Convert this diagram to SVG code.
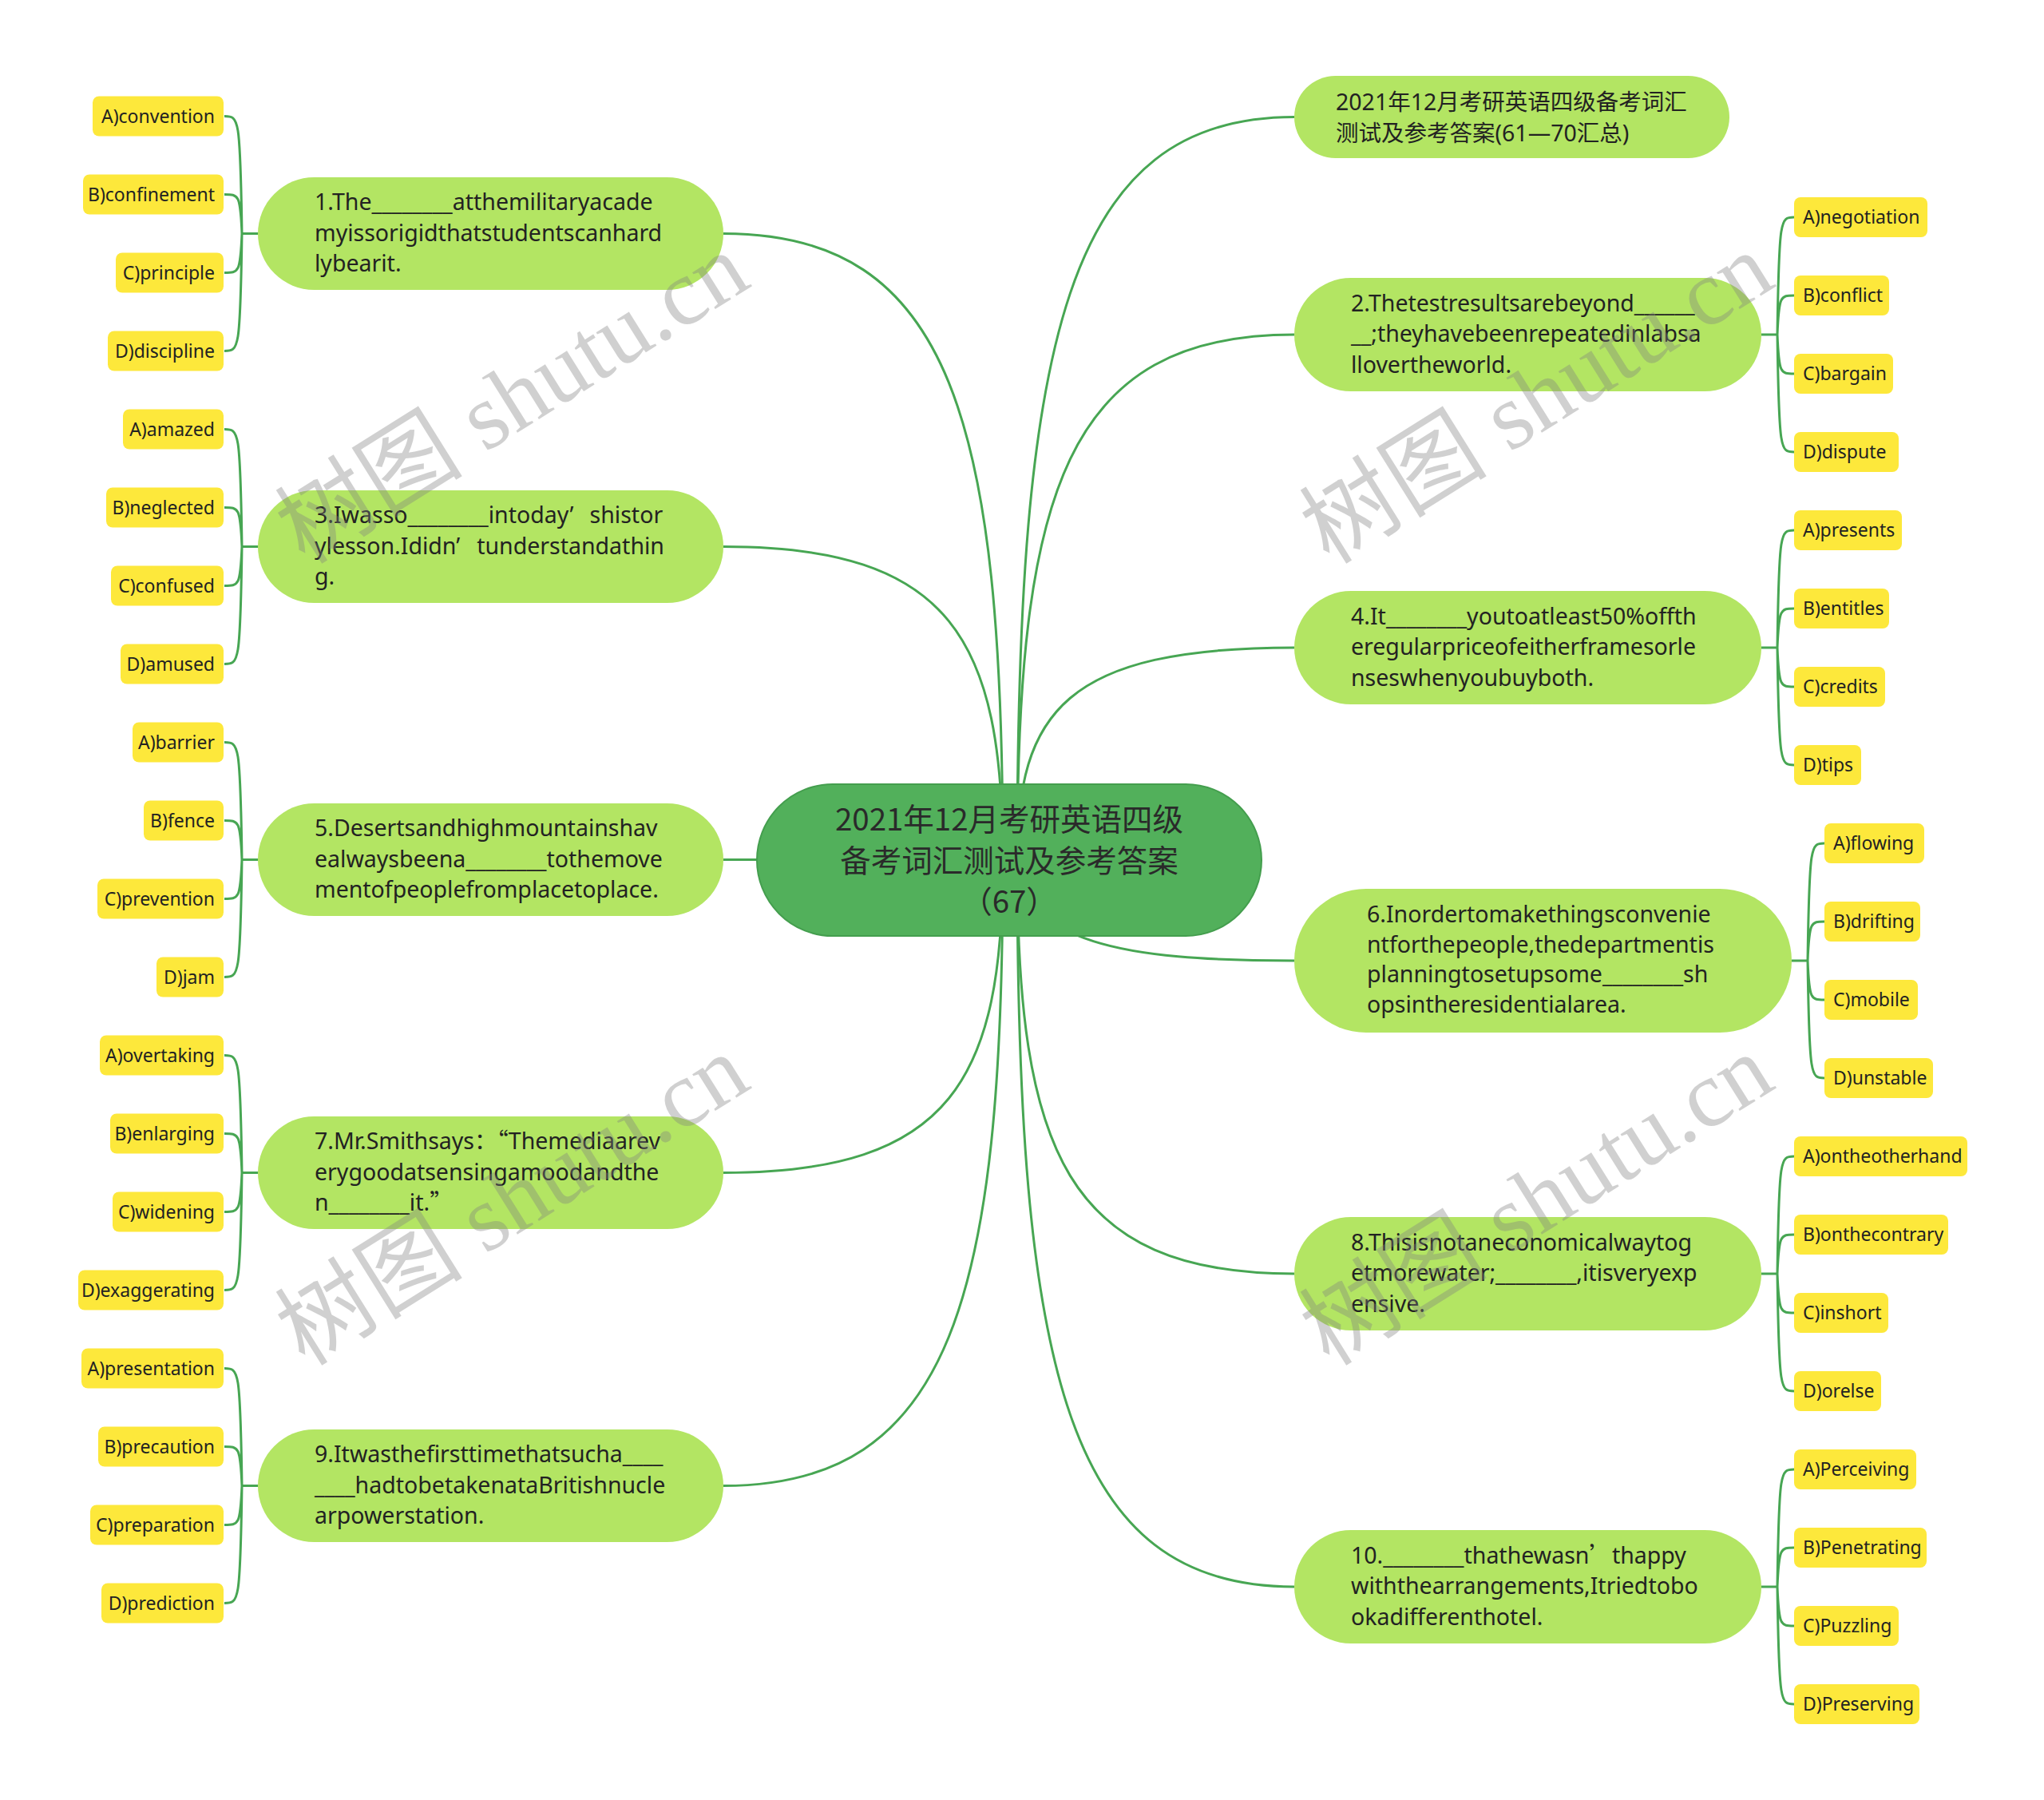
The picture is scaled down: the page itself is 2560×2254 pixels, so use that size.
<svg xmlns="http://www.w3.org/2000/svg" width="2560" height="2254" viewBox="0 0 2560 2254">
<style>
.main{fill:#b3e563}
.opt{fill:#fde83b}
.root{fill:#52b05b;stroke:#449e4e;stroke-width:2}
.t{font-family:"Noto Sans","Noto Sans CJK SC",sans-serif;font-size:28.5px;fill:#222}
.o{font-family:"Noto Sans","Noto Sans CJK SC",sans-serif;font-size:23px;fill:#222}
.r{text-anchor:end}
.cjk{font-family:"Noto Sans CJK SC",sans-serif}
.rt{font-family:"Noto Sans CJK SC",sans-serif;font-size:38.5px;fill:#2a2a2a;text-anchor:middle}
.link{fill:none;stroke:#47a653;stroke-width:3}
.wm{font-family:"Liberation Serif","Noto Sans CJK SC",serif;font-size:118px;fill:#808080;opacity:.36}
</style>
<rect width="2560" height="2254" fill="#ffffff"/>
<g id="connectors">
<path class="link" d="M1256 1077 C1256 528 1192 292.5 906 292.5"/>
<path class="link" d="M1256 1077 C1256 802 1192 684.5 906 684.5"/>
<path class="link" d="M1264 1076.5 L906 1076.5"/>
<path class="link" d="M1256 1077 C1256 1351 1192 1468.5 906 1468.5"/>
<path class="link" d="M1256 1077 C1256 1625 1192 1860.5 906 1860.5"/>
<path class="link" d="M1274 1077 C1274 426 1335 146.5 1621 146.5"/>
<path class="link" d="M1274 1077 C1274 616 1335 419 1621 419"/>
<path class="link" d="M1274 1077 C1274 891 1335 811 1621 811"/>
<path class="link" d="M1264 1077 C1290 1180 1400 1203 1621 1203"/>
<path class="link" d="M1274 1077 C1274 1440 1335 1595 1621 1595"/>
<path class="link" d="M1274 1077 C1274 1714 1335 1987 1621 1987"/>
<path class="link" d="M323 292.5 L303 292.5 M303 292.5 C301 145.5 299 145.5 281 145.5 M303 292.5 C301 243.5 299 243.5 281 243.5 M303 292.5 C301 341.5 299 341.5 281 341.5 M303 292.5 C301 439.5 299 439.5 281 439.5"/>
<path class="link" d="M323 684.5 L303 684.5 M303 684.5 C301 537.5 299 537.5 281 537.5 M303 684.5 C301 635.5 299 635.5 281 635.5 M303 684.5 C301 733.5 299 733.5 281 733.5 M303 684.5 C301 831.5 299 831.5 281 831.5"/>
<path class="link" d="M323 1076.5 L303 1076.5 M303 1076.5 C301 929.5 299 929.5 281 929.5 M303 1076.5 C301 1027.5 299 1027.5 281 1027.5 M303 1076.5 C301 1125.5 299 1125.5 281 1125.5 M303 1076.5 C301 1223.5 299 1223.5 281 1223.5"/>
<path class="link" d="M323 1468.5 L303 1468.5 M303 1468.5 C301 1321.5 299 1321.5 281 1321.5 M303 1468.5 C301 1419.5 299 1419.5 281 1419.5 M303 1468.5 C301 1517.5 299 1517.5 281 1517.5 M303 1468.5 C301 1615.5 299 1615.5 281 1615.5"/>
<path class="link" d="M323 1860.5 L303 1860.5 M303 1860.5 C301 1713.5 299 1713.5 281 1713.5 M303 1860.5 C301 1811.5 299 1811.5 281 1811.5 M303 1860.5 C301 1909.5 299 1909.5 281 1909.5 M303 1860.5 C301 2007.5 299 2007.5 281 2007.5"/>
<path class="link" d="M2206 419 L2226 419 M2226 419 C2228 272 2230 272 2247 272 M2226 419 C2228 370 2230 370 2247 370 M2226 419 C2228 468 2230 468 2247 468 M2226 419 C2228 566 2230 566 2247 566"/>
<path class="link" d="M2206 811 L2226 811 M2226 811 C2228 664 2230 664 2247 664 M2226 811 C2228 762 2230 762 2247 762 M2226 811 C2228 860 2230 860 2247 860 M2226 811 C2228 958 2230 958 2247 958"/>
<path class="link" d="M2244 1203 L2264 1203 M2264 1203 C2266 1056 2268 1056 2285 1056 M2264 1203 C2266 1154 2268 1154 2285 1154 M2264 1203 C2266 1252 2268 1252 2285 1252 M2264 1203 C2266 1350 2268 1350 2285 1350"/>
<path class="link" d="M2206 1595 L2226 1595 M2226 1595 C2228 1448 2230 1448 2247 1448 M2226 1595 C2228 1546 2230 1546 2247 1546 M2226 1595 C2228 1644 2230 1644 2247 1644 M2226 1595 C2228 1742 2230 1742 2247 1742"/>
<path class="link" d="M2206 1987 L2226 1987 M2226 1987 C2228 1840 2230 1840 2247 1840 M2226 1987 C2228 1938 2230 1938 2247 1938 M2226 1987 C2228 2036 2230 2036 2247 2036 M2226 1987 C2228 2134 2230 2134 2247 2134"/>
</g>
<g id="root">
<rect class="root" x="948" y="982" width="632" height="190" rx="95"/>
<text class="rt" x="1264" y="1040">2021年12月考研英语四级</text>
<text class="rt" x="1264" y="1092">备考词汇测试及参考答案</text>
<text class="rt" x="1264" y="1143">（67）</text>
</g>
<g id="node-top">
<rect class="main" x="1621" y="95" width="545" height="103" rx="51.5"/>
<text class="t" x="1673" y="138">2021年12月考研英语四级备考词汇</text>
<text class="t" x="1673" y="177">测试及参考答案(61—70汇总)</text>
</g>
<g id="node-1">
<rect class="main" x="323" y="222" width="583" height="141" rx="70.5"/>
<text class="t" x="394" y="263">1.The________atthemilitaryacade</text>
<text class="t" x="394" y="301.5">myissorigidthatstudentscanhard</text>
<text class="t" x="394" y="340">lybearit.</text>
</g>
<g id="node-1-opts">
<rect class="opt" x="116" y="120.5" width="164" height="50" rx="8"/><text class="o r" x="269" y="153.5">A)convention</text>
<rect class="opt" x="104" y="218.5" width="176" height="50" rx="8"/><text class="o r" x="269" y="251.5">B)confinement</text>
<rect class="opt" x="145" y="316.5" width="135" height="50" rx="8"/><text class="o r" x="269" y="349.5">C)principle</text>
<rect class="opt" x="135" y="414.5" width="145" height="50" rx="8"/><text class="o r" x="269" y="447.5">D)discipline</text>
</g>
<g id="node-3">
<rect class="main" x="323" y="614" width="583" height="141" rx="70.5"/>
<text class="t" x="394" y="655">3.Iwasso________intoday’<tspan dx="21">shistor</tspan></text>
<text class="t" x="394" y="693.5">ylesson.Ididn’<tspan dx="21">tunderstandathin</tspan></text>
<text class="t" x="394" y="732">g.</text>
</g>
<g id="node-3-opts">
<rect class="opt" x="154" y="512.5" width="126" height="50" rx="8"/><text class="o r" x="269" y="545.5">A)amazed</text>
<rect class="opt" x="133" y="610.5" width="147" height="50" rx="8"/><text class="o r" x="269" y="643.5">B)neglected</text>
<rect class="opt" x="139" y="708.5" width="141" height="50" rx="8"/><text class="o r" x="269" y="741.5">C)confused</text>
<rect class="opt" x="151" y="806.5" width="129" height="50" rx="8"/><text class="o r" x="269" y="839.5">D)amused</text>
</g>
<g id="node-5">
<rect class="main" x="323" y="1006" width="583" height="141" rx="70.5"/>
<text class="t" x="394" y="1047">5.Desertsandhighmountainshav</text>
<text class="t" x="394" y="1085.5">ealwaysbeena________tothemove</text>
<text class="t" x="394" y="1124">mentofpeoplefromplacetoplace.</text>
</g>
<g id="node-5-opts">
<rect class="opt" x="166" y="904.5" width="114" height="50" rx="8"/><text class="o r" x="269" y="937.5">A)barrier</text>
<rect class="opt" x="180" y="1002.5" width="100" height="50" rx="8"/><text class="o r" x="269" y="1035.5">B)fence</text>
<rect class="opt" x="122" y="1100.5" width="158" height="50" rx="8"/><text class="o r" x="269" y="1133.5">C)prevention</text>
<rect class="opt" x="196" y="1198.5" width="84" height="50" rx="8"/><text class="o r" x="269" y="1231.5">D)jam</text>
</g>
<g id="node-7">
<rect class="main" x="323" y="1398" width="583" height="141" rx="70.5"/>
<text class="t" x="394" y="1439">7.Mr.Smithsays<tspan class="cjk">：“</tspan>Themediaarev</text>
<text class="t" x="394" y="1477.5">erygoodatsensingamoodandthe</text>
<text class="t" x="394" y="1516">n________it.<tspan class="cjk">”</tspan></text>
</g>
<g id="node-7-opts">
<rect class="opt" x="125" y="1296.5" width="155" height="50" rx="8"/><text class="o r" x="269" y="1329.5">A)overtaking</text>
<rect class="opt" x="138" y="1394.5" width="142" height="50" rx="8"/><text class="o r" x="269" y="1427.5">B)enlarging</text>
<rect class="opt" x="141" y="1492.5" width="139" height="50" rx="8"/><text class="o r" x="269" y="1525.5">C)widening</text>
<rect class="opt" x="98" y="1590.5" width="182" height="50" rx="8"/><text class="o r" x="269" y="1623.5">D)exaggerating</text>
</g>
<g id="node-9">
<rect class="main" x="323" y="1790" width="583" height="141" rx="70.5"/>
<text class="t" x="394" y="1831">9.Itwasthefirsttimethatsucha____</text>
<text class="t" x="394" y="1869.5">____hadtobetakenataBritishnucle</text>
<text class="t" x="394" y="1908">arpowerstation.</text>
</g>
<g id="node-9-opts">
<rect class="opt" x="102" y="1688.5" width="178" height="50" rx="8"/><text class="o r" x="269" y="1721.5">A)presentation</text>
<rect class="opt" x="123" y="1786.5" width="157" height="50" rx="8"/><text class="o r" x="269" y="1819.5">B)precaution</text>
<rect class="opt" x="113" y="1884.5" width="167" height="50" rx="8"/><text class="o r" x="269" y="1917.5">C)preparation</text>
<rect class="opt" x="127" y="1982.5" width="153" height="50" rx="8"/><text class="o r" x="269" y="2015.5">D)prediction</text>
</g>
<g id="node-2">
<rect class="main" x="1621" y="348" width="585" height="142" rx="71"/>
<text class="t" x="1692" y="389.5">2.Thetestresultsarebeyond______</text>
<text class="t" x="1692" y="428">__;theyhavebeenrepeatedinlabsa</text>
<text class="t" x="1692" y="466.5">llovertheworld.</text>
</g>
<g id="node-2-opts">
<rect class="opt" x="2247" y="247" width="167" height="50" rx="8"/><text class="o" x="2258" y="280">A)negotiation</text>
<rect class="opt" x="2247" y="345" width="119" height="50" rx="8"/><text class="o" x="2258" y="378">B)conflict</text>
<rect class="opt" x="2247" y="443" width="124" height="50" rx="8"/><text class="o" x="2258" y="476">C)bargain</text>
<rect class="opt" x="2247" y="541" width="131" height="50" rx="8"/><text class="o" x="2258" y="574">D)dispute</text>
</g>
<g id="node-4">
<rect class="main" x="1621" y="740" width="585" height="142" rx="71"/>
<text class="t" x="1692" y="781.5">4.It________youtoatleast50%offth</text>
<text class="t" x="1692" y="820">eregularpriceofeitherframesorle</text>
<text class="t" x="1692" y="858.5">nseswhenyoubuyboth.</text>
</g>
<g id="node-4-opts">
<rect class="opt" x="2247" y="639" width="135" height="50" rx="8"/><text class="o" x="2258" y="672">A)presents</text>
<rect class="opt" x="2247" y="737" width="119" height="50" rx="8"/><text class="o" x="2258" y="770">B)entitles</text>
<rect class="opt" x="2247" y="835" width="114" height="50" rx="8"/><text class="o" x="2258" y="868">C)credits</text>
<rect class="opt" x="2247" y="933" width="84" height="50" rx="8"/><text class="o" x="2258" y="966">D)tips</text>
</g>
<g id="node-6">
<rect class="main" x="1621" y="1113" width="623" height="180" rx="90"/>
<text class="t" x="1712" y="1155">6.Inordertomakethingsconvenie</text>
<text class="t" x="1712" y="1192.5">ntforthepeople,thedepartmentis</text>
<text class="t" x="1712" y="1230">planningtosetupsome________sh</text>
<text class="t" x="1712" y="1267.5">opsintheresidentialarea.</text>
</g>
<g id="node-6-opts">
<rect class="opt" x="2285" y="1031" width="125" height="50" rx="8"/><text class="o" x="2296" y="1064">A)flowing</text>
<rect class="opt" x="2285" y="1129" width="120" height="50" rx="8"/><text class="o" x="2296" y="1162">B)drifting</text>
<rect class="opt" x="2285" y="1227" width="117" height="50" rx="8"/><text class="o" x="2296" y="1260">C)mobile</text>
<rect class="opt" x="2285" y="1325" width="136" height="50" rx="8"/><text class="o" x="2296" y="1358">D)unstable</text>
</g>
<g id="node-8">
<rect class="main" x="1621" y="1524" width="585" height="142" rx="71"/>
<text class="t" x="1692" y="1565.5">8.Thisisnotaneconomicalwaytog</text>
<text class="t" x="1692" y="1604">etmorewater;________,itisveryexp</text>
<text class="t" x="1692" y="1642.5">ensive.</text>
</g>
<g id="node-8-opts">
<rect class="opt" x="2247" y="1423" width="217" height="50" rx="8"/><text class="o" x="2258" y="1456">A)ontheotherhand</text>
<rect class="opt" x="2247" y="1521" width="193" height="50" rx="8"/><text class="o" x="2258" y="1554">B)onthecontrary</text>
<rect class="opt" x="2247" y="1619" width="118" height="50" rx="8"/><text class="o" x="2258" y="1652">C)inshort</text>
<rect class="opt" x="2247" y="1717" width="109" height="50" rx="8"/><text class="o" x="2258" y="1750">D)orelse</text>
</g>
<g id="node-10">
<rect class="main" x="1621" y="1916" width="585" height="142" rx="71"/>
<text class="t" x="1692" y="1957.5">10.________thathewasn<tspan class="cjk">’</tspan>thappy</text>
<text class="t" x="1692" y="1996">withthearrangements,Itriedtobo</text>
<text class="t" x="1692" y="2034.5">okadifferenthotel.</text>
</g>
<g id="node-10-opts">
<rect class="opt" x="2247" y="1815" width="153" height="50" rx="8"/><text class="o" x="2258" y="1848">A)Perceiving</text>
<rect class="opt" x="2247" y="1913" width="166" height="50" rx="8"/><text class="o" x="2258" y="1946">B)Penetrating</text>
<rect class="opt" x="2247" y="2011" width="131" height="50" rx="8"/><text class="o" x="2258" y="2044">C)Puzzling</text>
<rect class="opt" x="2247" y="2109" width="157" height="50" rx="8"/><text class="o" x="2258" y="2142">D)Preserving</text>
</g>
<g id="watermarks">
<text class="wm" transform="translate(382 708) rotate(-32)">树图 shutu.cn</text>
<text class="wm" transform="translate(1665 708) rotate(-32)">树图 shutu.cn</text>
<text class="wm" transform="translate(382 1712) rotate(-32)">树图 shutu.cn</text>
<text class="wm" transform="translate(1665 1712) rotate(-32)">树图 shutu.cn</text>
</g>
</svg>
